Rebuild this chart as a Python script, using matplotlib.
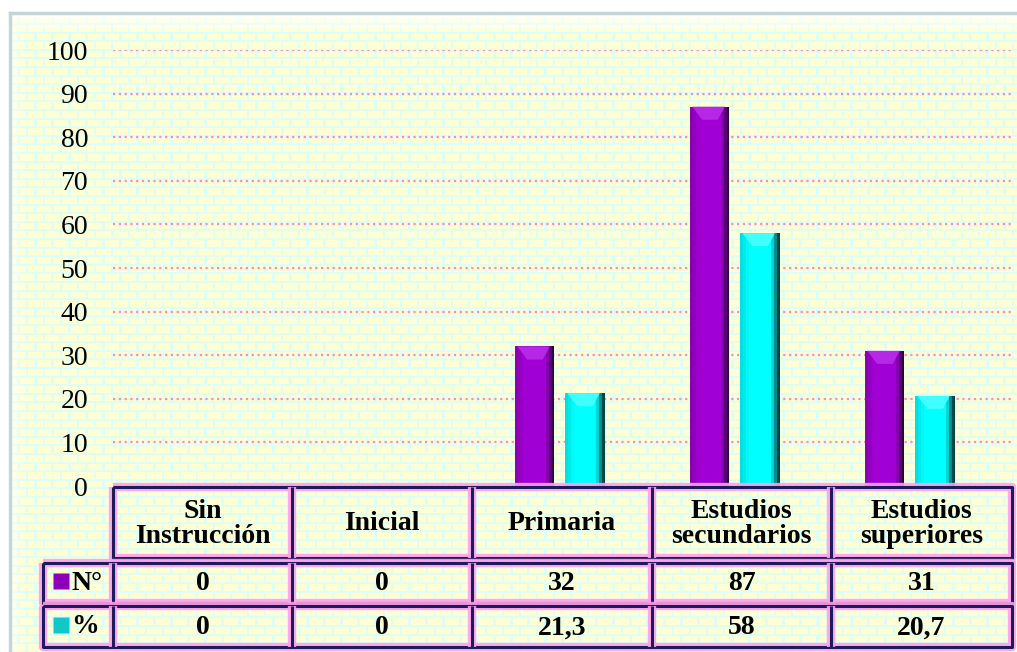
import numpy as np
import matplotlib.pyplot as plt
import matplotlib.colors as mcolors

categorias = ["Sin\nInstrucción", "Inicial", "Primaria", "Estudios\nsecundarios", "Estudios\nsuperiores"]
numero = [0, 0, 32, 87, 31]
porcentaje = [0, 0, 21.3, 58, 20.7]
txt_numero = ["0", "0", "32", "87", "31"]
txt_porcentaje = ["0", "0", "21,3", "58", "20,7"]
series = ["N°", "%"]
yticks = list(range(0, 101, 10))

plt.rcParams['font.family'] = ['Liberation Serif', 'DejaVu Serif']

W, H = 1017, 652
fig = plt.figure(figsize=(W / 100, H / 100), dpi=100)

# fondo de ladrillos
bg = fig.add_axes([0, 0, 1, 1], zorder=0)
bg.set_xlim(0, W)
bg.set_ylim(H, 0)
bg.axis('off')
yy, xx = np.mgrid[0:H, 0:W].astype(float)
fila = np.floor((yy - 14) / 8.6)
dentro = (yy - 14) - fila * 8.6
junta = (dentro < 2) | (((xx + (fila % 2) * 8.5) % 17) < 2.5)
tex = np.empty((H, W, 3))
tex[:] = mcolors.to_rgb('#FFFFD6')
tex[junta] = mcolors.to_rgb('#DDFFF4')
f = np.clip(1 - (yy - 14) / 20, 0, 1) * 0.85
f = np.maximum(f, np.clip(1 - (xx - 11) / 14, 0, 1) * 0.5)
tex = tex * (1 - f[..., None]) + f[..., None]
fuera = (xx < 10) | (yy < 13)
tex[fuera] = 1
bg.imshow(tex, extent=(0, W, H, 0), interpolation='nearest', aspect='auto')
bg.plot([10, 10], [13, H], color='#C4D6DA', lw=2.5)
bg.plot([10, W], [13, 13], color='#C4D6DA', lw=2.5)

# barras
ax = fig.add_axes([113 / W, (H - 486) / H, (1012 - 113) / W, (486 - 50) / H], zorder=1)
ax.patch.set_alpha(0)
for s in ax.spines.values():
    s.set_visible(False)
ax.set_ylim(0, 100)
ax.set_xlim(-0.554, 4.583)
ax.set_yticks(yticks)
ax.set_xticks([])
ax.tick_params(axis='y', length=0, pad=18, labelsize=20)
ax.yaxis.grid(True, linestyle=(0, (1, 1.6)), color='#FF88C8', lw=1.6)
ax.set_axisbelow(True)

x = np.arange(len(categorias))
ancho = 0.223
desp = 0.143
n_tiras = 14
for vals, off, c_claro, c_medio, c_osc, c_tapa in [
        (numero, -desp, '#8A00B4', '#A000D4', '#300040', '#B428E6'),
        (porcentaje, desp, '#00E0E0', '#00FFFF', '#004848', '#40FFFF')]:
    cmap = mcolors.LinearSegmentedColormap.from_list(
        'g', [c_claro, c_medio, c_medio, c_medio, c_medio, c_osc])
    w = ancho / n_tiras
    for k in range(n_tiras):
        xs = x + off - ancho / 2 + (k + 0.5) * w
        ax.bar(xs, vals, width=w * 1.02, color=cmap(k / (n_tiras - 1)), linewidth=0, zorder=3)
    # bisel superior
    for xi, v in zip(x, vals):
        if v > 0:
            x0, x1 = xi + off - ancho / 2, xi + off + ancho / 2
            ax.fill([x0 + ancho * 0.05, x1 - ancho * 0.12, x1 - ancho * 0.3, x0 + ancho * 0.3],
                    [v, v, v - 3.0, v - 3.0], color=c_tapa, lw=0, zorder=4)

# tabla
tab = fig.add_axes([0, 0, 1, 1], zorder=2)
tab.set_xlim(0, W)
tab.set_ylim(H, 0)
tab.axis('off')
cols = [113, 292, 472, 652, 831, 1012]
filas = [(113, 487, 558), (43, 563, 603), (43, 606, 647)]


def linea(xs, ys):
    tab.plot(xs, ys, color='#FFA0EC', lw=6, solid_capstyle='butt', alpha=0.9)
    tab.plot(xs, ys, color='#1C1C5C', lw=2.2, solid_capstyle='butt')


for x0, y0, y1 in filas:
    linea([x0, 1012, 1012, x0, x0], [y0, y0, y1, y1, y0])
    for c in cols[:-1]:
        if c > x0:
            linea([c, c], [y0, y1])

cx = [(cols[i] + cols[i + 1]) / 2 for i in range(len(categorias))]
for i, cat in enumerate(categorias):
    tab.text(cx[i], 524, cat, ha='center', va='center', fontsize=20, fontweight='bold', linespacing=1.0)
    tab.text(cx[i], 584, txt_numero[i], ha='center', va='center', fontsize=20, fontweight='bold')
    tab.text(cx[i], 628, txt_porcentaje[i], ha='center', va='center', fontsize=20, fontweight='bold')

for (x0, y0, y1), nombre, col in zip(filas[1:], series, ['#8E00B8', '#10C8C8']):
    ym = (y0 + y1) / 2
    tab.plot([61], [ym - 2], marker='s', markersize=11, color=col, markeredgecolor='none')
    tab.text(71, ym, nombre, ha='left', va='center', fontsize=20, fontweight='bold')

fig.savefig('out.png', dpi=100)
